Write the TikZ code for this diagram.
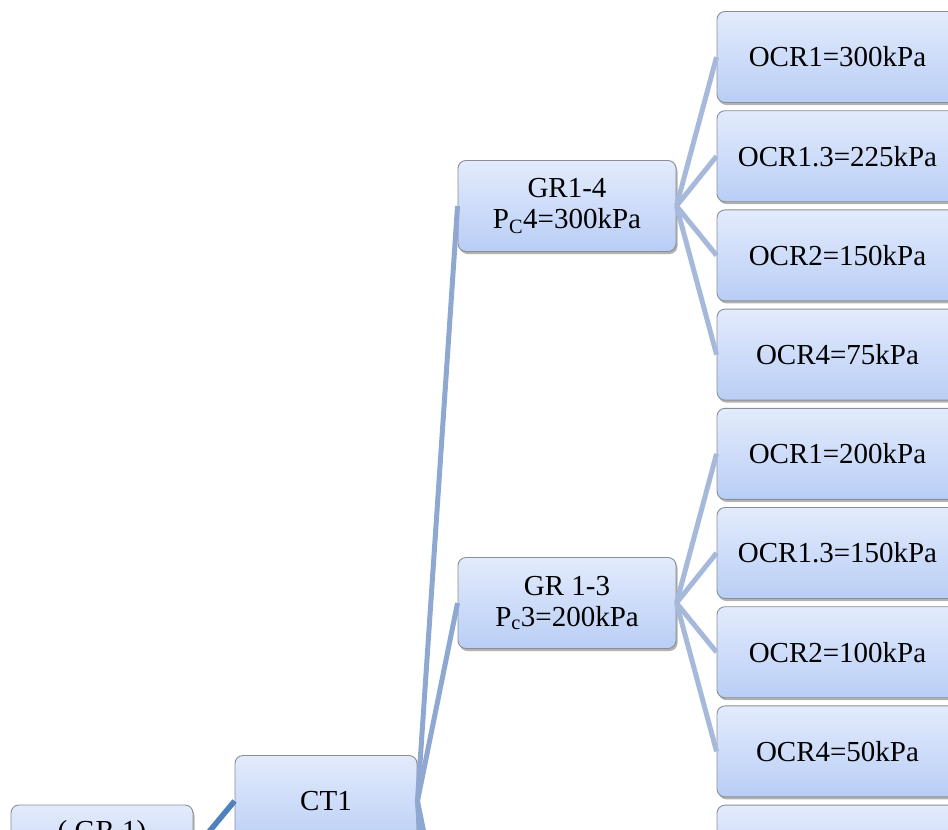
\documentclass[tikz,border=0pt]{standalone}
\usepackage{fontspec}
\setmainfont{Liberation Serif}
\usetikzlibrary{shadows}
\definecolor{boxtop}{HTML}{E3EBFC}
\definecolor{boxbot}{HTML}{B9CEF6}
\definecolor{boxborder}{HTML}{8A8E96}
\definecolor{linkdark}{HTML}{4F81BD}
\definecolor{linkmid}{HTML}{8EA8D2}
\definecolor{linklight}{HTML}{A6B9DB}
\begin{document}
\begin{tikzpicture}[x=1pt,y=-1pt,
  box/.style={draw=boxborder, line width=0.9pt, rounded corners=8pt,
    top color=boxtop, bottom color=boxbot, minimum height=91pt,
    inner sep=0pt, align=center, font=\fontsize{29}{31}\selectfont,
    drop shadow={shadow xshift=1.5pt, shadow yshift=-2.5pt, fill=black, opacity=0.3}},
  ocrbox/.style={box, minimum width=241pt},
  grbox/.style={box, minimum width=218pt},
  ctbox/.style={box, minimum width=182pt},
  linkA/.style={draw=linkdark, line width=5.5pt},
  linkB/.style={draw=linkmid, line width=5pt},
  linkC/.style={draw=linklight, line width=5pt}
]
\useasboundingbox (0,0) rectangle (948,830);
\clip (0,0) rectangle (948,830);

% nodes
\node[ctbox] (gr1) at (102,850.5) {( GR 1)\\\strut};
\node[ctbox] (ct1) at (326,801) {CT1};
\node[grbox] (gr14) at (567,206) {GR1-4\\P\textsubscript{C}4=300kPa};
\node[grbox] (gr13) at (567,603) {GR 1-3\\P\textsubscript{c}3=200kPa};
\coordinate (gr12) at (458,1000);
\coordinate (gr11) at (458,1397);

\node[ocrbox] (o1) at (837.5,57) {OCR1=300kPa};
\node[ocrbox] (o2) at (837.5,156.2) {OCR1.3=225kPa};
\node[ocrbox] (o3) at (837.5,255.4) {OCR2=150kPa};
\node[ocrbox] (o4) at (837.5,354.6) {OCR4=75kPa};
\node[ocrbox] (o5) at (837.5,453.8) {OCR1=200kPa};
\node[ocrbox] (o6) at (837.5,553) {OCR1.3=150kPa};
\node[ocrbox] (o7) at (837.5,652.2) {OCR2=100kPa};
\node[ocrbox] (o8) at (837.5,751.4) {OCR4=50kPa};
\node[ocrbox] (o9) at (837.5,850.6) {};

% connectors
\draw[linkA] (gr1.east) -- (ct1.west);
\draw[linkB] (ct1.east) -- (gr14.west);
\draw[linkB] (ct1.east) -- (gr13.west);
\draw[linkB] (ct1.east) -- (gr12);
\draw[linkB] (ct1.east) -- (gr11);
\foreach \o in {o1,o2,o3,o4} \draw[linkC] (gr14.east) -- (\o.west);
\foreach \o in {o5,o6,o7,o8} \draw[linkC] (gr13.east) -- (\o.west);
\end{tikzpicture}
\end{document}
